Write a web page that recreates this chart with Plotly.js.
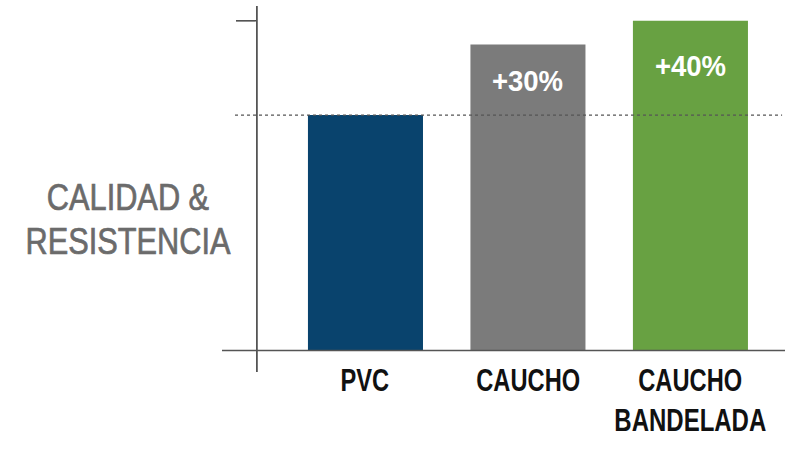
<!DOCTYPE html>
<html>
<head>
<meta charset="utf-8">
<script src="https://cdn.plot.ly/plotly-3.0.1.min.js"></script>
<style>html,body{margin:0;padding:0;background:#fff;}#chart{width:795px;height:451px;}</style>
</head>
<body>
<div id="chart"></div>
<script>
const categories = ["PVC", "CAUCHO", "CAUCHO BANDELADA"];
const labelLine1 = ["PVC", "CAUCHO", "CAUCHO"];
const labelLine2 = ["", "", "BANDELADA"];
const values = [100, 130, 140];
const barColors = ["#09436D", "#7B7B7B", "#68A142"];
const pctLabels = ["", "+30%", "+40%"];
const pctLabelY = [0, 114.5, 121];
const referenceValue = 100;
const topTick = 140;
const yTitleLines = ["CALIDAD &", "RESISTENCIA"];

const xIdx = categories.map((c, i) => i);

const trace = {
  type: "bar",
  x: xIdx,
  y: values,
  marker: {color: barColors, line: {width: 0}},
  width: 0.708,
  hoverinfo: "none"
};

const annotations = [];
const squeeze = [];
const strokeW = [];
function addAnn(a, s, sw) { annotations.push(a); squeeze.push(s); strokeW.push(sw || 0); }

const catFont = {family: "Liberation Sans, Arial, sans-serif", size: 32, color: "#111111", weight: 700};
categories.forEach((c, i) => {
  addAnn({x: i, y: -0.0219, xref: "x", yref: "paper", text: labelLine1[i], showarrow: false,
          xanchor: "center", yanchor: "middle", font: catFont}, 0.74);
  if (labelLine2[i]) {
    addAnn({x: i, y: -0.1325, xref: "x", yref: "paper", text: labelLine2[i], showarrow: false,
            xanchor: "center", yanchor: "middle", font: catFont}, 0.75);
  }
  if (pctLabels[i]) {
    addAnn({x: i, y: pctLabelY[i], xref: "x", yref: "y", text: pctLabels[i], showarrow: false,
            xanchor: "center", yanchor: "middle",
            font: {family: "Liberation Sans, Arial, sans-serif", size: 29, color: "#ffffff", weight: 700}}, 0.95);
  }
});
const titleY = [0.4795, 0.3566];
yTitleLines.forEach((t, k) => {
  addAnn({x: -0.1661, y: titleY[k], xref: "paper", yref: "paper", text: t, showarrow: false,
          xanchor: "center", yanchor: "middle",
          font: {family: "Liberation Sans, Arial, sans-serif", size: 37.5, color: "#6B6B6B"}}, 0.82, 0.7);
});

const shapes = [
  {type: "line", xref: "x", yref: "paper", x0: -0.668, x1: -0.668, y0: 0, y1: 1,
   line: {color: "#000000", width: 1.2}},
  {type: "line", xref: "paper", yref: "y", x0: 0, x1: 1, y0: 0, y1: 0,
   line: {color: "#555555", width: 1.5}},
  {type: "line", xref: "x", yref: "y", x0: -0.797, x1: -0.674, y0: topTick, y1: topTick,
   line: {color: "#444444", width: 1.5}},
  {type: "line", xref: "x", yref: "y", x0: -0.803, x1: 2.564, y0: referenceValue, y1: referenceValue,
   line: {color: "#555555", width: 1.3, dash: "dot"}, layer: "above"}
];

const layout = {
  width: 795, height: 451,
  margin: {l: 222, r: 10, t: 6, b: 79, pad: 0},
  paper_bgcolor: "#ffffff", plot_bgcolor: "#ffffff",
  showlegend: false,
  xaxis: {range: [-0.883, 2.582], showgrid: false, zeroline: false, showticklabels: false,
          ticks: "", showline: false, fixedrange: true},
  yaxis: {range: [-9.1, 146.3], showgrid: false, zeroline: false, showticklabels: false,
          ticks: "", showline: false, fixedrange: true},
  annotations: annotations,
  shapes: shapes
};

Plotly.newPlot("chart", [trace], layout, {displayModeBar: false, staticPlot: true}).then(gd => {
  // condensed lettering: squeeze each annotation horizontally around its own centre
  gd.querySelectorAll("g.annotation").forEach(g => {
    const idx = +g.getAttribute("data-index");
    const s = squeeze[idx];
    const t = g.querySelector("text.annotation-text");
    if (!t) return;
    if (strokeW[idx]) {
      t.style.stroke = "#6B6B6B";
      t.style.strokeWidth = strokeW[idx] + "px";
    }
    if (!s || s === 1) return;
    const bb = t.getBBox();
    const cx = bb.x + bb.width / 2;
    t.setAttribute("transform", `translate(${cx},0) scale(${s},1) translate(${-cx},0)`);
  });
});
</script>
</body>
</html>
